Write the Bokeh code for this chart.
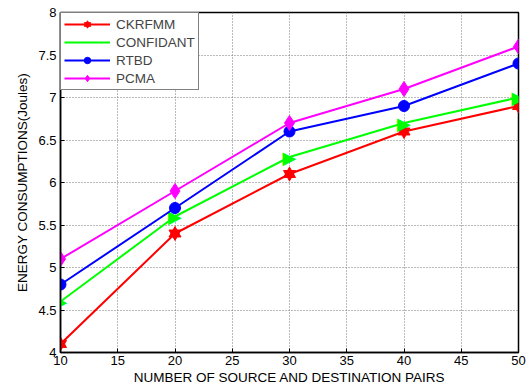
import numpy as np
from bokeh.plotting import figure
from bokeh.models import Range1d, FixedTicker, NumeralTickFormatter, Legend, LegendItem, ColumnDataSource
from bokeh.core.properties import value
from bokeh.embed import file_html
from bokeh.resources import INLINE

pairs = [10, 20, 30, 40, 50]
ckrfmm = [4.1, 5.4, 6.1, 6.6, 6.9]
confidant = [4.6, 5.6, 6.3, 6.7, 7.0]
rtbd = [4.8, 5.7, 6.6, 6.9, 7.4]
pcma = [5.1, 5.9, 6.7, 7.1, 7.6]

x_ticks = [10, 15, 20, 25, 30, 35, 40, 45, 50]
y_ticks = [4, 4.5, 5, 5.5, 6, 6.5, 7, 7.5, 8]

FONT = "Liberation Sans"

p = figure(width=530, height=392, output_backend="svg", toolbar_location=None,
           x_range=Range1d(10, 50), y_range=Range1d(4, 8))
p.min_border_left = 60
p.min_border_right = 12
p.min_border_top = 12
p.min_border_bottom = 40
p.outline_line_color = "black"
p.outline_line_width = 1.5
p.background_fill_color = "white"
p.border_fill_color = "white"

for ax in (p.xaxis[0], p.yaxis[0]):
    ax.major_tick_in = 4
    ax.major_tick_out = 0
    ax.minor_tick_line_color = None
    ax.axis_line_width = 1.5
    ax.major_label_text_font = FONT
    ax.major_label_text_font_size = "13px"
    ax.major_label_text_color = "black"
    ax.axis_label_text_font = FONT
    ax.axis_label_text_font_size = "13.5px"
    ax.axis_label_text_font_style = "normal"
    ax.axis_label_text_color = "black"

p.xaxis.ticker = FixedTicker(ticks=x_ticks)
p.yaxis.ticker = FixedTicker(ticks=y_ticks)
p.yaxis.formatter = NumeralTickFormatter(format="0.[0]")
p.xaxis.axis_label = "NUMBER OF SOURCE AND DESTINATION PAIRS"
p.yaxis.axis_label = "ENERGY CONSUMPTIONS(Joules)"
p.xaxis.axis_label_standoff = 2
p.yaxis.axis_label_standoff = 5
p.xaxis.major_label_standoff = 3
p.yaxis.major_label_standoff = 4

p.xgrid.ticker = FixedTicker(ticks=x_ticks)
p.ygrid.ticker = FixedTicker(ticks=y_ticks)
for g in (p.xgrid[0], p.ygrid[0]):
    g.grid_line_color = "#777777"
    g.grid_line_dash = "1 2"
    g.grid_line_width = 1

series = [
    ("CKRFMM", ckrfmm, "#ff0000", ["triangle", "inverted_triangle"], 12),
    ("CONFIDANT", confidant, "#00ff00", ["text"], 13),
    ("RTBD", rtbd, "#0000ff", ["circle"], 11),
    ("PCMA", pcma, "#ff00ff", ["diamond"], 15),
]

items = []
for name, ys, color, markers, size in series:
    src = ColumnDataSource(dict(x=pairs, y=ys, t=["\u25B6"] * len(pairs)))
    l = p.line("x", "y", source=src, line_color=color, line_width=2)
    rs = [l]
    for m in markers:
        if m == "text":
            s = p.text("x", "y", text="t", source=src, text_color=color,
                       text_font=value("DejaVu Sans"), text_font_size="18px",
                       text_align="center", text_baseline="middle")
            # legend-only marker (no data points drawn)
            empty = ColumnDataSource(dict(x=[], y=[]))
            s2 = p.scatter("x", "y", source=empty, marker="triangle", size=size,
                           fill_color=color, line_color=color)
            rs.append(s2)
        else:
            s = p.scatter("x", "y", source=src, marker=m, size=size,
                          fill_color=color, line_color=color)
        rs.append(s)
    items.append(LegendItem(label=name, renderers=rs))

legend = Legend(items=items, location="top_left")
legend.margin = 0
legend.padding = 3
legend.spacing = 2
legend.glyph_width = 46
legend.glyph_height = 16
legend.label_height = 16
legend.label_standoff = 6
legend.label_text_font = FONT
legend.label_text_font_size = "13.5px"
legend.border_line_color = "black"
legend.border_line_width = 1.5
legend.background_fill_alpha = 1
p.add_layout(legend, "center")

open("out.html", "w").write(file_html(p, INLINE))
